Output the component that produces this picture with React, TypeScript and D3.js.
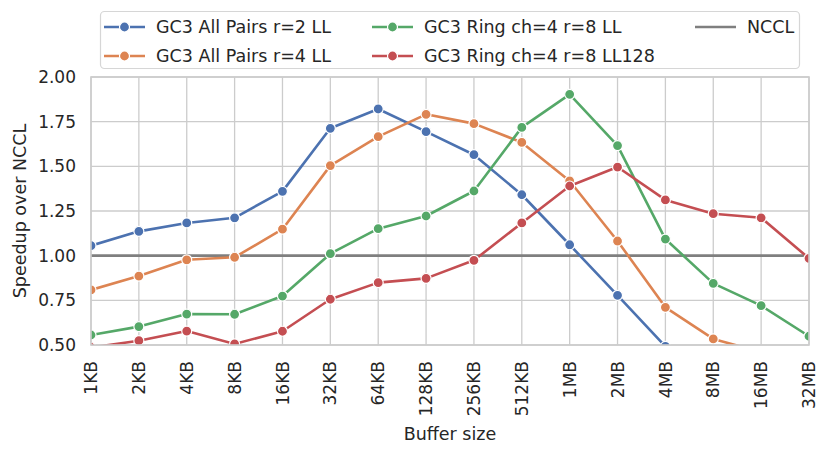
import { useEffect } from 'react'
import * as d3 from 'd3'

const categories = ['1KB', '2KB', '4KB', '8KB', '16KB', '32KB', '64KB', '128KB', '256KB', '512KB', '1MB', '2MB', '4MB', '8MB', '16MB', '32MB']

// speedups, null = off the bottom of the axes
const allPairsR2 = [1.056, 1.136, 1.183, 1.212, 1.36, 1.713, 1.821, 1.694, 1.565, 1.341, 1.061, 0.778, 0.492, null, null, null]
const allPairsR4 = [0.808, 0.886, 0.977, 0.991, 1.148, 1.504, 1.666, 1.791, 1.739, 1.634, 1.418, 1.082, 0.711, 0.534, 0.46, null]
const ringLL = [0.556, 0.603, 0.673, 0.672, 0.774, 1.011, 1.151, 1.222, 1.362, 1.718, 1.903, 1.616, 1.093, 0.845, 0.72, 0.549]
const ringLL128 = [0.486, 0.524, 0.578, 0.506, 0.577, 0.756, 0.849, 0.873, 0.974, 1.183, 1.39, 1.496, 1.312, 1.235, 1.212, 0.985]
const ncclBaseline = 1.0

const yTicks = [0.5, 0.75, 1.0, 1.25, 1.5, 1.75, 2.0]

const series = [
  { name: 'GC3 All Pairs r=2 LL', values: allPairsR2, color: '#4c72b0' },
  { name: 'GC3 All Pairs r=4 LL', values: allPairsR4, color: '#dd8452' },
  { name: 'GC3 Ring ch=4 r=8 LL', values: ringLL, color: '#55a868' },
  { name: 'GC3 Ring ch=4 r=8 LL128', values: ringLL128, color: '#c44e52' },
]

const W = 830
const H = 455
const margin = { top: 77, right: 21, bottom: 110, left: 91 }
const font = '"DejaVu Sans", sans-serif'

export default function App() {
  useEffect(() => {
    document.body.style.margin = '0'
  }, [])

  const x = d3.scalePoint<string>()
    .domain(categories)
    .range([margin.left, W - margin.right])
  const y = d3.scaleLinear()
    .domain([0.5, 2.0])
    .range([H - margin.bottom, margin.top])

  const line = d3.line<number | null>()
    .defined(d => d != null)
    .x((_, i) => x(categories[i])!)
    .y(d => y(d as number))

  const left = margin.left
  const right = W - margin.right
  const top = margin.top
  const bottom = H - margin.bottom

  // legend layout
  const legendCols = [104, 372, 695]
  const legendRows = [27, 56]
  const legendItems = [
    { ...series[0], col: 0, row: 0, marker: true },
    { ...series[1], col: 0, row: 1, marker: true },
    { ...series[2], col: 1, row: 0, marker: true },
    { ...series[3], col: 1, row: 1, marker: true },
    { name: 'NCCL', color: '#7f7f7f', col: 2, row: 0, marker: false },
  ]

  return (
    <svg width={W} height={H} style={{ display: 'block', fontFamily: font }}>
      <defs>
        <clipPath id="plot">
          <rect x={left} y={top} width={right - left} height={bottom - top} />
        </clipPath>
      </defs>
      <rect width={W} height={H} fill="#fff" />

      {/* grid */}
      {categories.map(c => (
        <line key={c} x1={x(c)} x2={x(c)} y1={top} y2={bottom} stroke="#cccccc" strokeWidth={1.3} />
      ))}
      {yTicks.map(t => (
        <line key={t} x1={left} x2={right} y1={y(t)} y2={y(t)} stroke="#cccccc" strokeWidth={1.3} />
      ))}

      <g clipPath="url(#plot)">
        <line x1={left} x2={right} y1={y(ncclBaseline)} y2={y(ncclBaseline)} stroke="#7f7f7f" strokeWidth={2.6} />
        {series.map(s => (
          <g key={s.name}>
            <path d={line(s.values) ?? ''} fill="none" stroke={s.color} strokeWidth={2.6} strokeLinejoin="round" />
            {s.values.map((v, i) => v == null ? null : (
              <circle key={i} cx={x(categories[i])} cy={y(v)} r={5} fill={s.color} stroke="#fff" strokeWidth={1.2} />
            ))}
          </g>
        ))}
      </g>

      {/* spines */}
      <rect x={left} y={top} width={right - left} height={bottom - top} fill="none" stroke="#cccccc" strokeWidth={1.6} />

      {/* y ticks */}
      {yTicks.map(t => (
        <text key={t} x={left - 15} y={y(t)} dy="0.36em" textAnchor="end" fontSize={17} fill="#262626">
          {t.toFixed(2)}
        </text>
      ))}
      {/* x ticks */}
      {categories.map(c => (
        <text key={c} transform={`translate(${x(c)},${bottom + 16}) rotate(-90)`} dy="0.36em" textAnchor="end" fontSize={17} fill="#262626">
          {c}
        </text>
      ))}

      <text x={(left + right) / 2} y={440} textAnchor="middle" fontSize={17.5} fill="#262626">Buffer size</text>
      <text transform={`translate(26,${(top + bottom) / 2}) rotate(-90)`} textAnchor="middle" fontSize={17.5} fill="#262626">Speedup over NCCL</text>

      {/* legend */}
      <rect x={100.5} y={11.5} width={699} height={57} rx={4} fill="#fff" fillOpacity={0.8} stroke="#d6d6d6" strokeWidth={1.2} />
      {legendItems.map(it => {
        const hx = legendCols[it.col]
        const hy = legendRows[it.row]
        return (
          <g key={it.name}>
            <line x1={hx} x2={hx + 41} y1={hy} y2={hy} stroke={it.color} strokeWidth={2.6} />
            {it.marker && <circle cx={hx + 20.5} cy={hy} r={5} fill={it.color} stroke="#fff" strokeWidth={1.2} />}
            <text x={hx + 52} y={hy} dy="0.36em" fontSize={17.5} fill="#262626">{it.name}</text>
          </g>
        )
      })}
    </svg>
  )
}
